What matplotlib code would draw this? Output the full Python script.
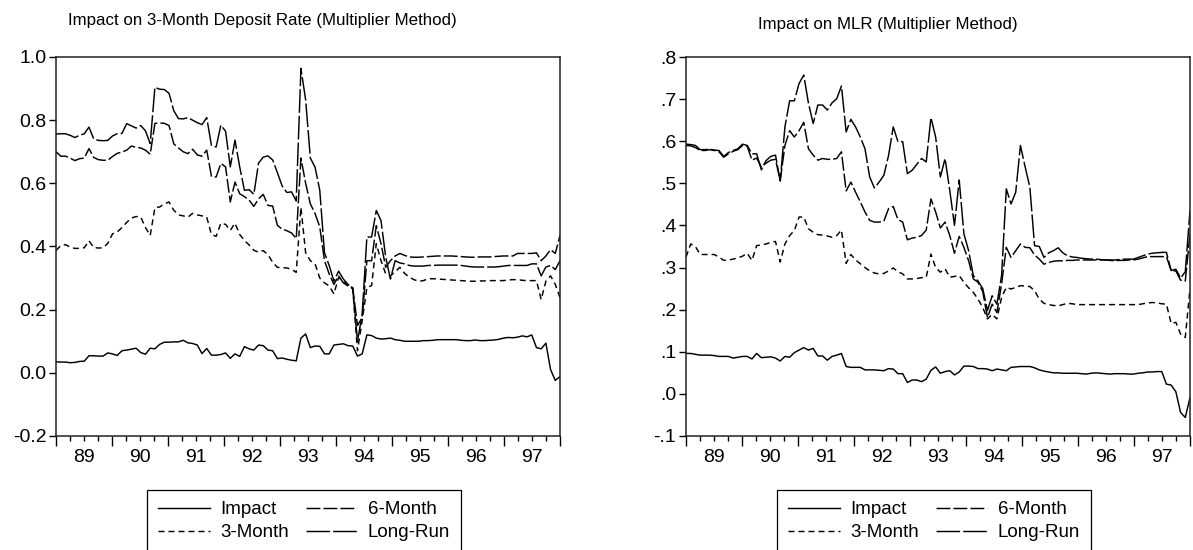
import numpy as np
import matplotlib
matplotlib.use("Agg")
import matplotlib.pyplot as plt

plt.rcParams['font.family'] = ['Liberation Sans', 'DejaVu Sans']
plt.rcParams['lines.scale_dashes'] = False

# ----------------------------------------------------------
# data: monthly multipliers, 1989:01 - 1997:12 (108 obs)
# ----------------------------------------------------------
year_ticks = list(range(1989, 1999))
year_labels = ['89', '90', '91', '92', '93', '94', '95', '96', '97']
series_names = ['Impact', '3-Month', '6-Month', 'Long-Run']

dep_impact = [
    0.035, 0.034, 0.034, 0.032, 0.033, 0.036, 0.037, 0.054, 0.054, 0.053, 0.053, 0.063,
    0.060, 0.055, 0.070, 0.072, 0.075, 0.078, 0.064, 0.059, 0.078, 0.076, 0.090, 0.097,
    0.097, 0.098, 0.098, 0.103, 0.095, 0.093, 0.088, 0.061, 0.077, 0.056, 0.056, 0.058,
    0.063, 0.046, 0.060, 0.052, 0.083, 0.076, 0.072, 0.088, 0.086, 0.072, 0.070, 0.045,
    0.047, 0.043, 0.040, 0.038, 0.110, 0.123, 0.080, 0.085, 0.084, 0.060, 0.060, 0.088,
    0.090, 0.092, 0.086, 0.085, 0.053, 0.060, 0.120, 0.118, 0.110, 0.107, 0.108, 0.110,
    0.105, 0.103, 0.100, 0.100, 0.100, 0.100, 0.102, 0.102, 0.103, 0.105, 0.105, 0.105,
    0.105, 0.105, 0.103, 0.102, 0.102, 0.104, 0.102, 0.102, 0.103, 0.104, 0.106, 0.110,
    0.112, 0.111, 0.113, 0.117, 0.114, 0.120, 0.080, 0.076, 0.094, 0.010, -0.024, -0.012]
dep_3m = [
    0.387, 0.403, 0.406, 0.398, 0.394, 0.394, 0.396, 0.418, 0.397, 0.395, 0.396, 0.410,
    0.440, 0.446, 0.460, 0.476, 0.490, 0.495, 0.493, 0.460, 0.435, 0.523, 0.525, 0.535,
    0.541, 0.515, 0.500, 0.497, 0.493, 0.505, 0.500, 0.497, 0.493, 0.438, 0.432, 0.474,
    0.470, 0.451, 0.474, 0.438, 0.419, 0.405, 0.388, 0.382, 0.387, 0.374, 0.350, 0.334,
    0.333, 0.332, 0.328, 0.318, 0.524, 0.380, 0.355, 0.345, 0.300, 0.285, 0.275, 0.250,
    0.302, 0.290, 0.275, 0.266, 0.070, 0.165, 0.270, 0.276, 0.409, 0.355, 0.313, 0.307,
    0.320, 0.334, 0.315, 0.303, 0.295, 0.290, 0.292, 0.298, 0.298, 0.297, 0.296, 0.295,
    0.294, 0.293, 0.292, 0.291, 0.290, 0.290, 0.291, 0.291, 0.292, 0.292, 0.292, 0.292,
    0.294, 0.295, 0.295, 0.293, 0.292, 0.292, 0.292, 0.232, 0.290, 0.307, 0.280, 0.238]
dep_6m = [
    0.700, 0.686, 0.686, 0.680, 0.672, 0.678, 0.680, 0.710, 0.682, 0.675, 0.673, 0.673,
    0.685, 0.695, 0.699, 0.705, 0.718, 0.714, 0.712, 0.705, 0.692, 0.790, 0.791, 0.790,
    0.783, 0.725, 0.712, 0.700, 0.694, 0.708, 0.690, 0.686, 0.705, 0.622, 0.620, 0.663,
    0.652, 0.541, 0.604, 0.567, 0.558, 0.547, 0.527, 0.551, 0.565, 0.530, 0.528, 0.467,
    0.455, 0.450, 0.443, 0.425, 0.680, 0.600, 0.535, 0.504, 0.462, 0.355, 0.313, 0.280,
    0.307, 0.285, 0.275, 0.270, 0.150, 0.175, 0.355, 0.355, 0.466, 0.409, 0.334, 0.355,
    0.370, 0.378, 0.372, 0.367, 0.366, 0.366, 0.367, 0.368, 0.369, 0.370, 0.370, 0.370,
    0.370, 0.369, 0.368, 0.367, 0.366, 0.366, 0.367, 0.367, 0.367, 0.368, 0.369, 0.370,
    0.370, 0.370, 0.378, 0.378, 0.378, 0.378, 0.380, 0.355, 0.370, 0.390, 0.378, 0.435]
dep_lr = [
    0.756, 0.757, 0.757, 0.752, 0.745, 0.752, 0.757, 0.778, 0.741, 0.736, 0.735, 0.736,
    0.750, 0.757, 0.758, 0.789, 0.782, 0.775, 0.783, 0.766, 0.726, 0.904, 0.898, 0.897,
    0.885, 0.830, 0.805, 0.804, 0.808, 0.800, 0.792, 0.786, 0.808, 0.720, 0.715, 0.784,
    0.765, 0.652, 0.737, 0.652, 0.578, 0.580, 0.565, 0.664, 0.683, 0.687, 0.674, 0.634,
    0.592, 0.571, 0.573, 0.544, 0.964, 0.864, 0.680, 0.651, 0.578, 0.380, 0.340, 0.290,
    0.322, 0.297, 0.280, 0.266, 0.100, 0.185, 0.430, 0.430, 0.514, 0.482, 0.366, 0.297,
    0.355, 0.348, 0.345, 0.340, 0.338, 0.338, 0.338, 0.340, 0.340, 0.341, 0.341, 0.341,
    0.341, 0.341, 0.340, 0.338, 0.336, 0.335, 0.335, 0.335, 0.335, 0.335, 0.336, 0.338,
    0.340, 0.340, 0.340, 0.340, 0.340, 0.345, 0.345, 0.307, 0.335, 0.340, 0.327, 0.355]

mlr_impact = [
    0.096, 0.096, 0.094, 0.092, 0.092, 0.092, 0.091, 0.089, 0.089, 0.089, 0.085, 0.087,
    0.089, 0.089, 0.083, 0.096, 0.086, 0.087, 0.088, 0.085, 0.078, 0.089, 0.087, 0.098,
    0.104, 0.110, 0.104, 0.108, 0.090, 0.090, 0.080, 0.089, 0.092, 0.096, 0.065, 0.063,
    0.063, 0.063, 0.057, 0.057, 0.057, 0.056, 0.055, 0.060, 0.059, 0.048, 0.048, 0.027,
    0.033, 0.033, 0.029, 0.035, 0.056, 0.064, 0.049, 0.053, 0.055, 0.045, 0.052, 0.066,
    0.066, 0.065, 0.060, 0.060, 0.059, 0.055, 0.059, 0.057, 0.055, 0.063, 0.064, 0.065,
    0.065, 0.065, 0.062, 0.057, 0.054, 0.052, 0.050, 0.050, 0.049, 0.049, 0.049, 0.049,
    0.048, 0.047, 0.049, 0.050, 0.049, 0.048, 0.047, 0.048, 0.048, 0.048, 0.047, 0.047,
    0.049, 0.050, 0.052, 0.052, 0.053, 0.053, 0.023, 0.021, 0.005, -0.044, -0.056, -0.009]
mlr_3m = [
    0.325, 0.356, 0.350, 0.331, 0.331, 0.331, 0.331, 0.325, 0.317, 0.318, 0.320, 0.323,
    0.327, 0.334, 0.317, 0.352, 0.354, 0.356, 0.360, 0.362, 0.313, 0.356, 0.376, 0.388,
    0.420, 0.420, 0.392, 0.384, 0.378, 0.377, 0.375, 0.372, 0.376, 0.389, 0.310, 0.331,
    0.318, 0.309, 0.300, 0.292, 0.287, 0.285, 0.286, 0.292, 0.299, 0.290, 0.285, 0.273,
    0.273, 0.274, 0.276, 0.277, 0.332, 0.300, 0.289, 0.297, 0.277, 0.279, 0.281, 0.265,
    0.252, 0.241, 0.225, 0.205, 0.178, 0.189, 0.178, 0.229, 0.253, 0.249, 0.253, 0.257,
    0.256, 0.255, 0.245, 0.225, 0.215, 0.212, 0.210, 0.209, 0.212, 0.215, 0.214, 0.212,
    0.212, 0.212, 0.212, 0.212, 0.212, 0.212, 0.212, 0.212, 0.212, 0.212, 0.212, 0.212,
    0.212, 0.214, 0.216, 0.217, 0.216, 0.214, 0.213, 0.167, 0.170, 0.142, 0.134, 0.250]
mlr_6m = [
    0.590, 0.589, 0.585, 0.578, 0.578, 0.580, 0.578, 0.575, 0.562, 0.570, 0.576, 0.580,
    0.590, 0.588, 0.555, 0.560, 0.539, 0.548, 0.555, 0.557, 0.506, 0.590, 0.625, 0.610,
    0.625, 0.645, 0.582, 0.567, 0.555, 0.559, 0.557, 0.557, 0.559, 0.575, 0.482, 0.503,
    0.479, 0.456, 0.432, 0.412, 0.408, 0.408, 0.410, 0.440, 0.445, 0.414, 0.408, 0.366,
    0.370, 0.372, 0.376, 0.389, 0.463, 0.432, 0.394, 0.408, 0.376, 0.334, 0.374, 0.348,
    0.316, 0.273, 0.265, 0.243, 0.181, 0.213, 0.193, 0.261, 0.348, 0.324, 0.340, 0.356,
    0.348, 0.347, 0.330, 0.320, 0.308, 0.312, 0.315, 0.316, 0.316, 0.317, 0.317, 0.318,
    0.318, 0.318, 0.318, 0.318, 0.318, 0.318, 0.317, 0.316, 0.317, 0.317, 0.318, 0.318,
    0.320, 0.323, 0.326, 0.326, 0.326, 0.326, 0.326, 0.292, 0.292, 0.270, 0.268, 0.380]
mlr_lr = [
    0.593, 0.592, 0.590, 0.580, 0.580, 0.581, 0.579, 0.578, 0.564, 0.573, 0.578, 0.582,
    0.593, 0.590, 0.570, 0.570, 0.532, 0.554, 0.564, 0.567, 0.506, 0.634, 0.696, 0.696,
    0.737, 0.757, 0.690, 0.642, 0.686, 0.686, 0.674, 0.691, 0.701, 0.731, 0.622, 0.652,
    0.634, 0.610, 0.582, 0.515, 0.489, 0.503, 0.519, 0.566, 0.634, 0.599, 0.599, 0.523,
    0.531, 0.545, 0.559, 0.551, 0.656, 0.610, 0.515, 0.559, 0.483, 0.400, 0.508, 0.380,
    0.340, 0.281, 0.268, 0.250, 0.198, 0.233, 0.213, 0.281, 0.487, 0.451, 0.479, 0.590,
    0.539, 0.491, 0.352, 0.350, 0.324, 0.335, 0.340, 0.347, 0.335, 0.328, 0.325, 0.324,
    0.322, 0.321, 0.320, 0.320, 0.319, 0.318, 0.318, 0.318, 0.319, 0.320, 0.320, 0.320,
    0.324, 0.328, 0.332, 0.334, 0.335, 0.336, 0.336, 0.293, 0.296, 0.275, 0.290, 0.436]

dep_yticks = [-0.2, 0.0, 0.2, 0.4, 0.6, 0.8, 1.0]
dep_ylabels = ['-0.2', '0.0', '0.2', '0.4', '0.6', '0.8', '1.0']
mlr_yticks = [-0.1, 0.0, 0.1, 0.2, 0.3, 0.4, 0.5, 0.6, 0.7, 0.8]
mlr_ylabels = ['-.1', '.0', '.1', '.2', '.3', '.4', '.5', '.6', '.7', '.8']

# line patterns (points): solid, short dash, medium dash, long dash
line_styles = [None, (4.3, 2.9), (10.0, 2.2), (17.0, 2.2)]


def draw_panel(ax, series, yticks, ylabels):
    n = len(series[0])
    x = year_ticks[0] + np.arange(n) * (year_ticks[-1] - year_ticks[0]) / (n - 1)
    handles = []
    for vals, name, dash in zip(series, series_names, line_styles):
        if dash is None:
            h, = ax.plot(x, vals, color='black', lw=1.05, label=name)
        else:
            h, = ax.plot(x, vals, color='black', lw=1.05, dashes=dash, label=name)
        handles.append(h)

    ax.set_xlim(year_ticks[0], year_ticks[-1])
    ax.set_ylim(yticks[0], yticks[-1])
    ax.set_yticks(yticks)
    ax.set_yticklabels(ylabels)
    ax.set_xticks(year_ticks)
    ax.set_xticklabels([])
    ax.set_xticks([y + q / 4 for y in year_ticks[:-1] for q in (1, 2, 3)], minor=True)
    ax.tick_params(axis='x', which='major', direction='out', length=7.5, width=1)
    ax.tick_params(axis='x', which='minor', direction='out', length=3.8, width=1)
    ax.tick_params(axis='y', direction='out', length=5, width=1, pad=2, labelsize=14)
    for s in ax.spines.values():
        s.set_linewidth(1.1)
        s.set_color('#222222')
    for y, lab in zip(year_ticks[:-1], year_labels):
        ax.annotate(lab, xy=(y + 0.5, 0), xycoords=('data', 'axes fraction'),
                    xytext=(0, -13), textcoords='offset pixels',
                    ha='center', va='top', fontsize=14)
    return handles


fig = plt.figure(figsize=(11.93, 5.50), dpi=100)
ax1 = fig.add_axes([56 / 1193, 1 - 436 / 550, 504 / 1193, 379 / 550])
ax2 = fig.add_axes([686 / 1193, 1 - 436 / 550, 504 / 1193, 379 / 550])

h1 = draw_panel(ax1, [dep_impact, dep_3m, dep_6m, dep_lr], dep_yticks, dep_ylabels)
h2 = draw_panel(ax2, [mlr_impact, mlr_3m, mlr_6m, mlr_lr], mlr_yticks, mlr_ylabels)

fig.text(262 / 1193, 1 - 20 / 550, 'Impact on 3-Month Deposit Rate (Multiplier Method)',
         ha='center', va='center', fontsize=12.2)
fig.text(888 / 1193, 1 - 25 / 550, 'Impact on MLR (Multiplier Method)',
         ha='center', va='center', fontsize=12.2)

for handles, left in ((h1, 147), (h2, 777)):
    leg = fig.legend(handles=handles, ncol=2, loc='upper left',
                     bbox_to_anchor=(left / 1193, 1 - 490 / 550),
                     bbox_transform=fig.transFigure, borderaxespad=0,
                     fontsize=13.5, frameon=True, fancybox=False,
                     handlelength=2.75, handletextpad=0.55, columnspacing=0.9,
                     labelspacing=0.3, borderpad=0.6)
    fr = leg.get_frame()
    fr.set_edgecolor('black')
    fr.set_linewidth(0.9)
    fr.set_alpha(1)

fig.savefig('out.png', dpi=100)
